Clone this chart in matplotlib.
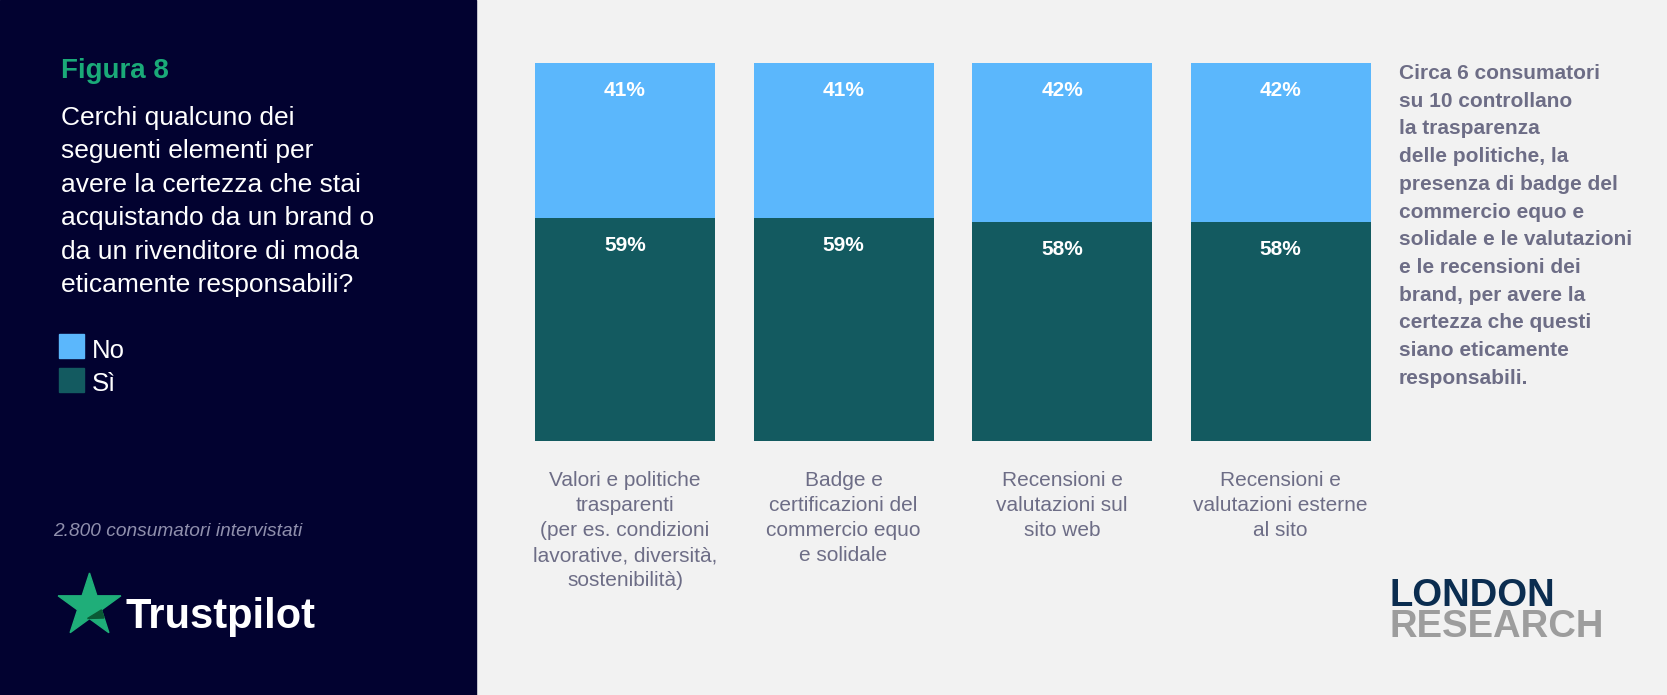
import matplotlib
matplotlib.use("Agg")
import matplotlib.pyplot as plt
from matplotlib.patches import Rectangle, Polygon
from matplotlib.transforms import blended_transform_factory
import numpy as np

plt.rcParams['font.family'] = ['Liberation Sans', 'DejaVu Sans']

# ---- data ----
categories = [
    "Valori e politiche\ntrasparenti\n(per es. condizioni\nlavorative, diversità,\nsostenibilità)",
    "Badge e\ncertificazioni del\ncommercio equo\ne solidale",
    "Recensioni e\nvalutazioni sul\nsito web",
    "Recensioni e\nvalutazioni esterne\nal sito",
]
si_values = [59, 59, 58, 58]
no_values = [41, 41, 42, 42]
series_labels = ["No", "Sì"]

title_fig = "Figura 8"
question_lines = ["Cerchi qualcuno dei", "seguenti elementi per", "avere la certezza che stai",
                  "acquistando da un brand o", "da un rivenditore di moda", "eticamente responsabili?"]
note_lines = ["Circa 6 consumatori", "su 10 controllano", "la trasparenza", "delle politiche, la",
              "presenza di badge del", "commercio equo e", "solidale e le valutazioni",
              "e le recensioni dei", "brand, per avere la", "certezza che questi",
              "siano eticamente", "responsabili."]
sample_text = "2.800 consumatori intervistati"

# ---- styles ----
W, H = 1667, 695
DARK = '#020230'
LIGHT_BG = '#f2f2f2'
BLUE = '#5bb7fc'
TEAL = '#135a60'
GREEN = '#1aaa78'
GREY_TXT = '#6d6d86'

fig = plt.figure(figsize=(W / 100, H / 100), dpi=100)
fig.patch.set_facecolor(LIGHT_BG)

bg = fig.add_axes([0, 0, 1, 1], zorder=0)
bg.set_xlim(0, W)
bg.set_ylim(H, 0)
bg.axis('off')
bg.add_patch(Rectangle((0, 0), 476, H, color=DARK, zorder=0))

# left panel texts
bg.text(61, 78, title_fig, color=GREEN, fontsize=20, fontweight='bold', va='baseline', ha='left')
for i, line in enumerate(question_lines):
    bg.text(61, 125 + i * 33.4, line, color='white', fontsize=19, va='baseline', ha='left')

# legend
bg.add_patch(Rectangle((59, 334), 25, 24, color=BLUE))
bg.add_patch(Rectangle((59, 368), 25, 24, color=TEAL))
bg.text(92, 358, series_labels[0], color='white', fontsize=18.5, va='baseline')
bg.text(92, 391, series_labels[1], color='white', fontsize=18.5, va='baseline')

bg.text(53, 536, sample_text, color='#9090ad', fontsize=13.8, fontstyle='italic', va='baseline')

# Trustpilot star logo
cx, cy, R = 89.5, 606, 33
r = R * 0.382
pts = []
for k in range(10):
    ang = np.deg2rad(90 + 36 * k)
    rad = R if k % 2 == 0 else r
    pts.append((cx + rad * np.cos(ang), cy - rad * np.sin(ang)))
bg.add_patch(Polygon(pts, closed=True, color='#1fae79', zorder=2))
bg.add_patch(Polygon([(cx + r * np.cos(np.deg2rad(-18)), cy + r * np.sin(np.deg2rad(18))),
                      (87.5, 618.5), (104, 618)], closed=True, color='#0a5a35', zorder=3))
bg.text(125, 628, "Trustpilot", color='white', fontsize=30, fontweight='bold', va='baseline')

# right note
for i, line in enumerate(note_lines):
    bg.text(1399, 79 + i * 27.7, line, color=GREY_TXT, fontsize=15, fontweight='bold', va='baseline')

# London Research logo
bg.text(1389, 606, "LONDON", color='#0b2d50', fontsize=27.5, fontweight='bold', va='baseline')
bg.text(1389, 637, "RESEARCH", color='#9d9d9d', fontsize=27.5, fontweight='bold', va='baseline')

# ---- bar chart ----
step = 218.5
ax_left = 625 - step / 2
ax = fig.add_axes([ax_left / W, 1 - 441 / H, 4 * step / W, 378 / H], zorder=1)
ax.patch.set_alpha(0)
x = np.arange(len(categories))
width = 180 / step
ax.bar(x, si_values, width=width, color=TEAL, linewidth=0)
ax.bar(x, no_values, width=width, bottom=si_values, color=BLUE, linewidth=0)
ax.set_xlim(-0.5, len(categories) - 0.5)
ax.set_ylim(0, 100)
ax.axis('off')

off = -33 * 0.72
for i in range(len(categories)):
    top_no = si_values[i] + no_values[i]
    ax.annotate(f"{no_values[i]}%", xy=(x[i], top_no), xytext=(0, off), textcoords='offset points',
                ha='center', va='baseline', color='white', fontsize=15, fontweight='bold')
    ax.annotate(f"{si_values[i]}%", xy=(x[i], si_values[i]), xytext=(0, off), textcoords='offset points',
                ha='center', va='baseline', color='white', fontsize=15, fontweight='bold')

trans = blended_transform_factory(ax.transData, bg.transData)
for i, cat in enumerate(categories):
    for j, line in enumerate(cat.split("\n")):
        ax.text(x[i], 486 + j * 25, line, transform=trans, ha='center', va='baseline',
                color=GREY_TXT, fontsize=15)

fig.savefig("out.png", dpi=100, facecolor=fig.get_facecolor())
